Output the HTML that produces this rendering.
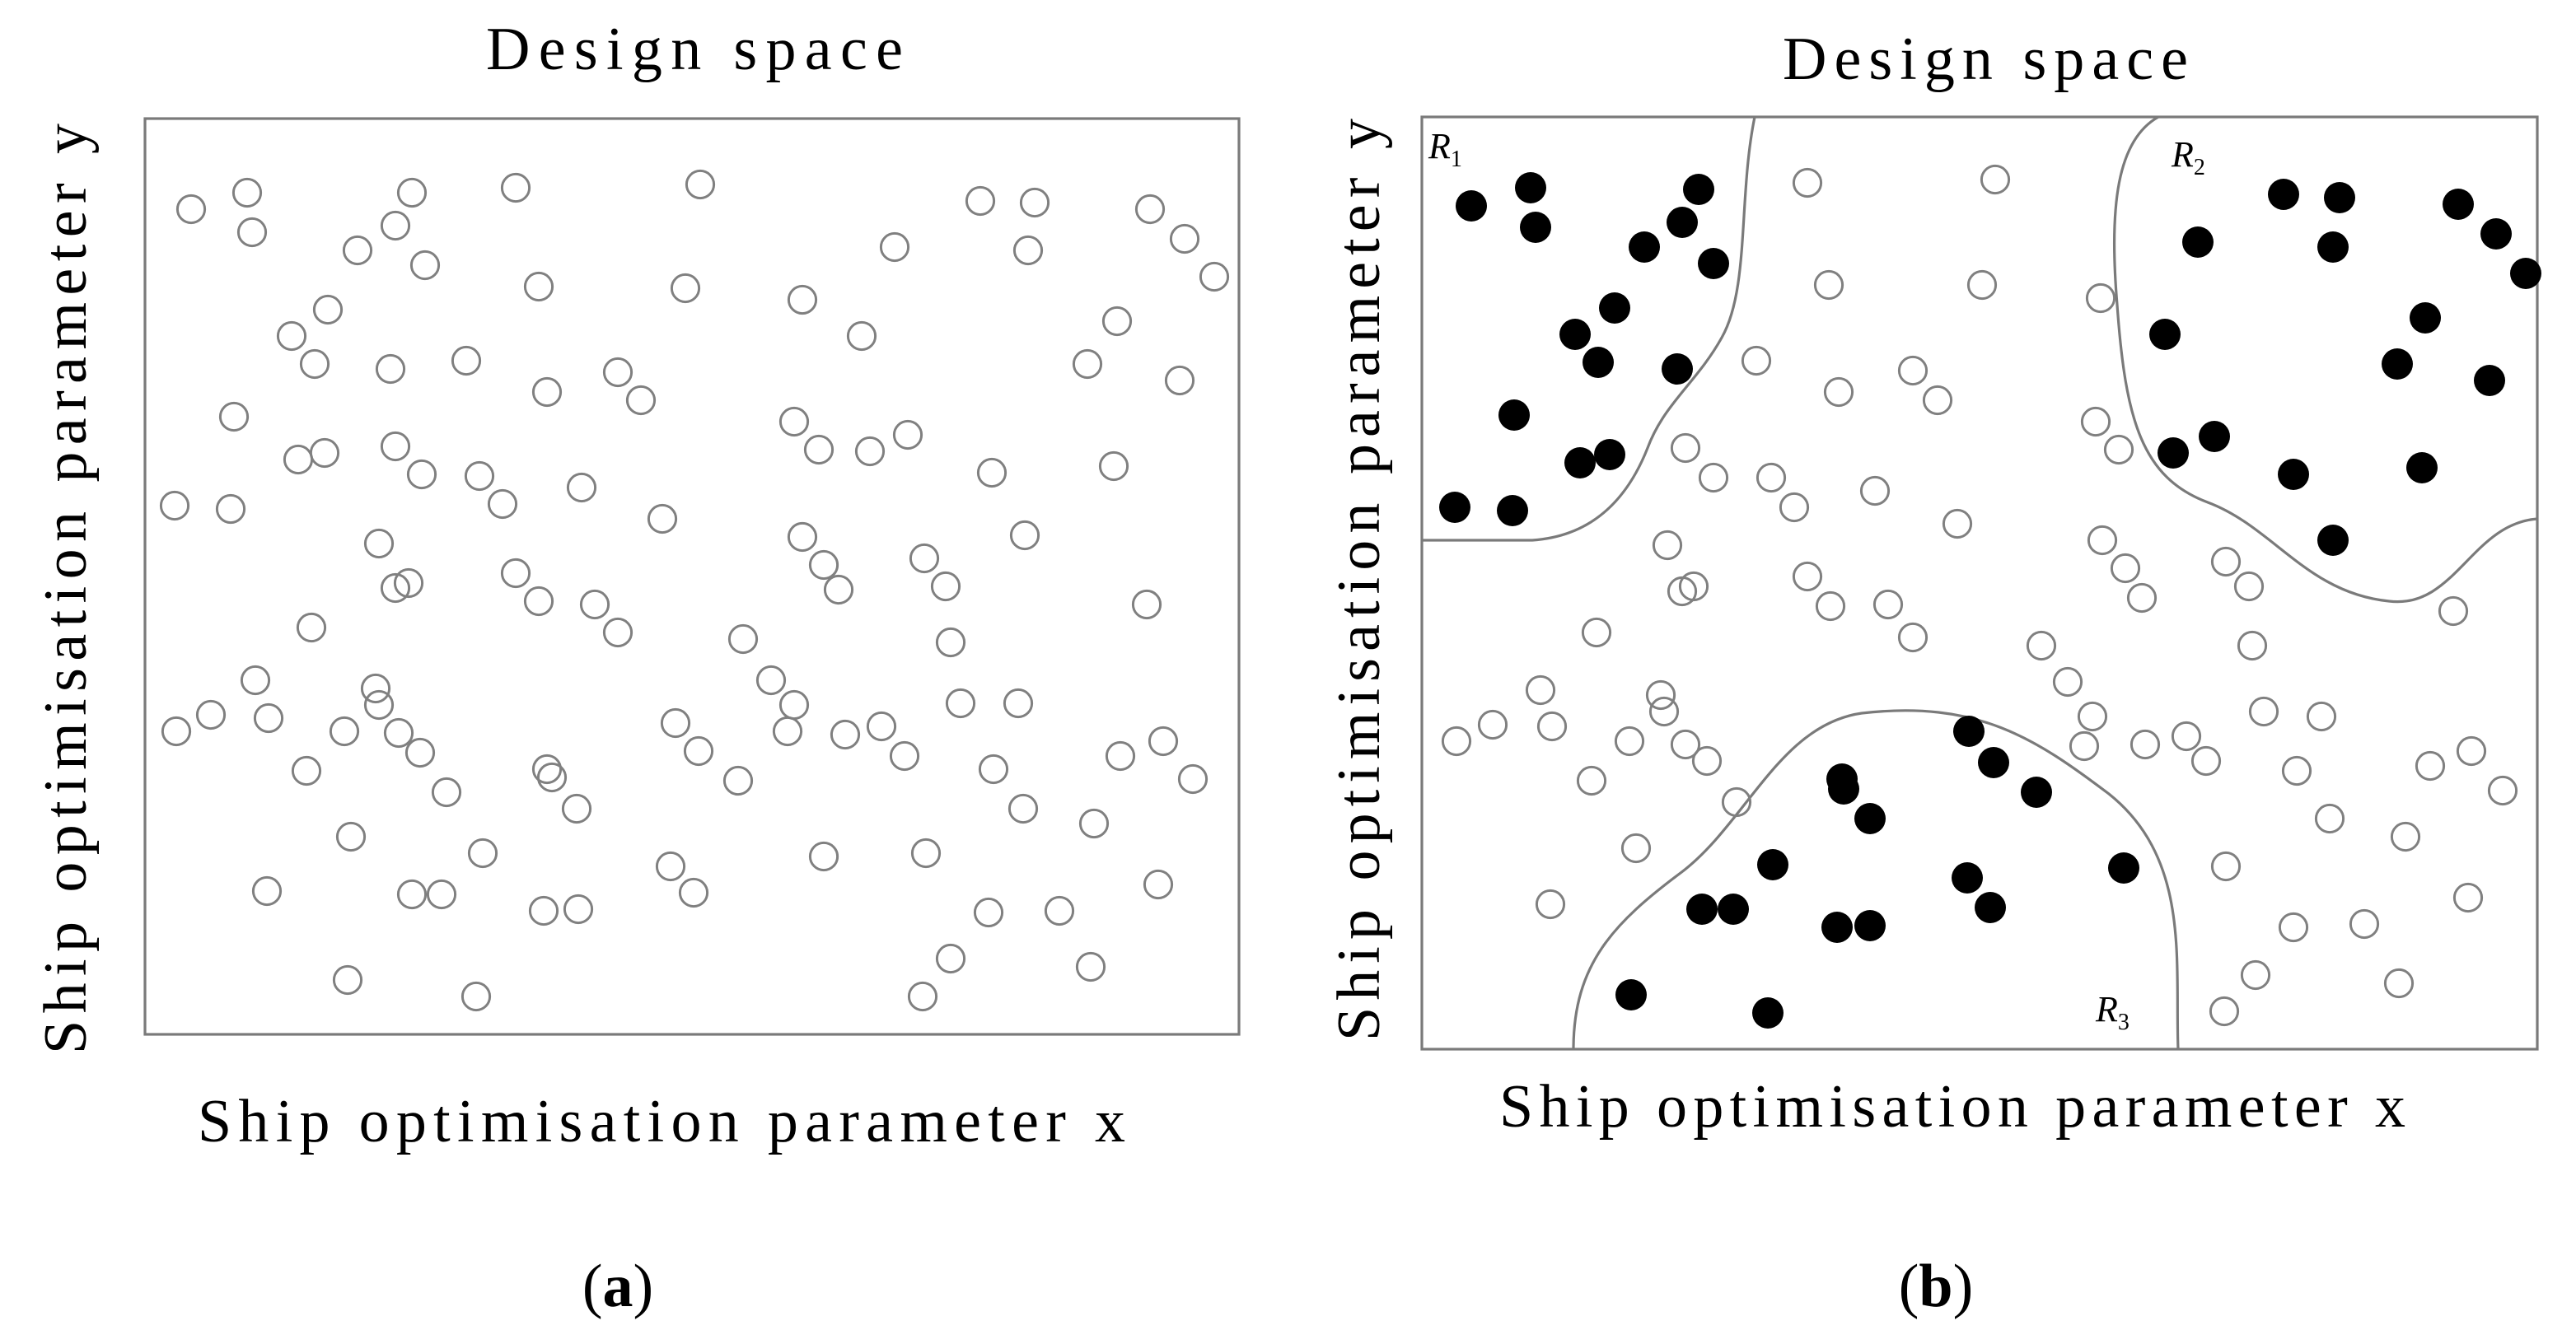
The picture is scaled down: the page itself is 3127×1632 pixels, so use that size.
<!DOCTYPE html>
<html><head><meta charset="utf-8"><style>html,body{margin:0;padding:0;background:#fff}svg{display:block}</style></head>
<body>
<svg width="3127" height="1632" viewBox="0 0 1563.5 816" xmlns="http://www.w3.org/2000/svg" font-family="Liberation Serif, serif">
<rect width="1563.5" height="816" fill="#fff"/>
<g fill="none" stroke="#7a7a7a" stroke-width="1.6">
<rect x="88" y="72" width="664" height="556"/>
<rect x="863" y="71" width="677" height="566"/>
<path d="M1065,71 C1055,120 1062,175 1045,205 C1030,232 1010,245 1000,272 C985,310 960,326 930,328 L863,328"/>
<path d="M1310,71 C1285,85 1280,125 1285,185 C1290,255 1300,290 1340,305 C1380,320 1400,360 1450,365 C1490,370 1500,318 1540,315"/>
<path d="M955,637 C955,585 980,560 1020,530 C1060,500 1080,440 1130,433 C1200,425 1235,448 1280,482 C1330,522 1320,585 1322,637"/>
</g>
<g fill="none" stroke="#808080" stroke-width="1.5">
<circle cx="116" cy="127" r="8.3"/><circle cx="150" cy="117" r="8.3"/><circle cx="153" cy="141" r="8.3"/><circle cx="250" cy="117" r="8.3"/><circle cx="240" cy="137" r="8.3"/><circle cx="217" cy="152" r="8.3"/><circle cx="258" cy="161" r="8.3"/><circle cx="313" cy="114" r="8.3"/><circle cx="425" cy="112" r="8.3"/><circle cx="327" cy="174" r="8.3"/><circle cx="416" cy="175" r="8.3"/><circle cx="595" cy="122" r="8.3"/><circle cx="628" cy="123" r="8.3"/><circle cx="624" cy="152" r="8.3"/><circle cx="698" cy="127" r="8.3"/><circle cx="719" cy="145" r="8.3"/><circle cx="737" cy="168" r="8.3"/><circle cx="543" cy="150" r="8.3"/><circle cx="487" cy="182" r="8.3"/><circle cx="523" cy="204" r="8.3"/><circle cx="199" cy="188" r="8.3"/><circle cx="177" cy="204" r="8.3"/><circle cx="191" cy="221" r="8.3"/><circle cx="237" cy="224" r="8.3"/><circle cx="283" cy="219" r="8.3"/><circle cx="332" cy="238" r="8.3"/><circle cx="375" cy="226" r="8.3"/><circle cx="389" cy="243" r="8.3"/><circle cx="660" cy="221" r="8.3"/><circle cx="678" cy="195" r="8.3"/><circle cx="716" cy="231" r="8.3"/><circle cx="142" cy="253" r="8.3"/><circle cx="181" cy="279" r="8.3"/><circle cx="197" cy="275" r="8.3"/><circle cx="240" cy="271" r="8.3"/><circle cx="256" cy="288" r="8.3"/><circle cx="291" cy="289" r="8.3"/><circle cx="305" cy="306" r="8.3"/><circle cx="353" cy="296" r="8.3"/><circle cx="482" cy="256" r="8.3"/><circle cx="497" cy="273" r="8.3"/><circle cx="528" cy="274" r="8.3"/><circle cx="551" cy="264" r="8.3"/><circle cx="602" cy="287" r="8.3"/><circle cx="676" cy="283" r="8.3"/><circle cx="106" cy="307" r="8.3"/><circle cx="140" cy="309" r="8.3"/><circle cx="402" cy="315" r="8.3"/><circle cx="487" cy="326" r="8.3"/><circle cx="500" cy="343" r="8.3"/><circle cx="622" cy="325" r="8.3"/><circle cx="230" cy="330" r="8.3"/><circle cx="240" cy="357" r="8.3"/><circle cx="248" cy="354" r="8.3"/><circle cx="313" cy="348" r="8.3"/><circle cx="327" cy="365" r="8.3"/><circle cx="361" cy="367" r="8.3"/><circle cx="375" cy="384" r="8.3"/><circle cx="509" cy="358" r="8.3"/><circle cx="561" cy="339" r="8.3"/><circle cx="574" cy="356" r="8.3"/><circle cx="696" cy="367" r="8.3"/><circle cx="189" cy="381" r="8.3"/><circle cx="451" cy="388" r="8.3"/><circle cx="577" cy="390" r="8.3"/><circle cx="468" cy="413" r="8.3"/><circle cx="482" cy="428" r="8.3"/><circle cx="155" cy="413" r="8.3"/><circle cx="228" cy="418" r="8.3"/><circle cx="230" cy="428" r="8.3"/><circle cx="107" cy="444" r="8.3"/><circle cx="128" cy="434" r="8.3"/><circle cx="163" cy="436" r="8.3"/><circle cx="209" cy="444" r="8.3"/><circle cx="242" cy="445" r="8.3"/><circle cx="255" cy="457" r="8.3"/><circle cx="410" cy="439" r="8.3"/><circle cx="424" cy="456" r="8.3"/><circle cx="478" cy="444" r="8.3"/><circle cx="513" cy="446" r="8.3"/><circle cx="535" cy="441" r="8.3"/><circle cx="549" cy="459" r="8.3"/><circle cx="583" cy="427" r="8.3"/><circle cx="618" cy="427" r="8.3"/><circle cx="186" cy="468" r="8.3"/><circle cx="271" cy="481" r="8.3"/><circle cx="332" cy="467" r="8.3"/><circle cx="335" cy="472" r="8.3"/><circle cx="350" cy="491" r="8.3"/><circle cx="448" cy="474" r="8.3"/><circle cx="603" cy="467" r="8.3"/><circle cx="680" cy="459" r="8.3"/><circle cx="706" cy="450" r="8.3"/><circle cx="724" cy="473" r="8.3"/><circle cx="213" cy="508" r="8.3"/><circle cx="293" cy="518" r="8.3"/><circle cx="407" cy="526" r="8.3"/><circle cx="500" cy="520" r="8.3"/><circle cx="562" cy="518" r="8.3"/><circle cx="621" cy="491" r="8.3"/><circle cx="664" cy="500" r="8.3"/><circle cx="162" cy="541" r="8.3"/><circle cx="250" cy="543" r="8.3"/><circle cx="268" cy="543" r="8.3"/><circle cx="330" cy="553" r="8.3"/><circle cx="351" cy="552" r="8.3"/><circle cx="421" cy="542" r="8.3"/><circle cx="703" cy="537" r="8.3"/><circle cx="600" cy="554" r="8.3"/><circle cx="643" cy="553" r="8.3"/><circle cx="211" cy="595" r="8.3"/><circle cx="289" cy="605" r="8.3"/><circle cx="560" cy="605" r="8.3"/><circle cx="577" cy="582" r="8.3"/><circle cx="662" cy="587" r="8.3"/>
<circle cx="1097" cy="111" r="8.3"/><circle cx="1211" cy="109" r="8.3"/><circle cx="1110" cy="173" r="8.3"/><circle cx="1203" cy="173" r="8.3"/><circle cx="1275" cy="181" r="8.3"/><circle cx="1066" cy="219" r="8.3"/><circle cx="1116" cy="238" r="8.3"/><circle cx="1161" cy="225" r="8.3"/><circle cx="1176" cy="243" r="8.3"/><circle cx="1272" cy="256" r="8.3"/><circle cx="1286" cy="273" r="8.3"/><circle cx="1023" cy="272" r="8.3"/><circle cx="1040" cy="290" r="8.3"/><circle cx="1075" cy="290" r="8.3"/><circle cx="1089" cy="308" r="8.3"/><circle cx="1138" cy="298" r="8.3"/><circle cx="1188" cy="318" r="8.3"/><circle cx="1012" cy="331" r="8.3"/><circle cx="1021" cy="359" r="8.3"/><circle cx="1028" cy="356" r="8.3"/><circle cx="1097" cy="350" r="8.3"/><circle cx="1111" cy="368" r="8.3"/><circle cx="1146" cy="367" r="8.3"/><circle cx="1161" cy="387" r="8.3"/><circle cx="1276" cy="328" r="8.3"/><circle cx="1290" cy="345" r="8.3"/><circle cx="1300" cy="363" r="8.3"/><circle cx="1351" cy="341" r="8.3"/><circle cx="1365" cy="356" r="8.3"/><circle cx="1239" cy="392" r="8.3"/><circle cx="1255" cy="414" r="8.3"/><circle cx="1270" cy="435" r="8.3"/><circle cx="1367" cy="392" r="8.3"/><circle cx="969" cy="384" r="8.3"/><circle cx="935" cy="419" r="8.3"/><circle cx="884" cy="450" r="8.3"/><circle cx="906" cy="440" r="8.3"/><circle cx="942" cy="441" r="8.3"/><circle cx="989" cy="450" r="8.3"/><circle cx="1008" cy="422" r="8.3"/><circle cx="1010" cy="432" r="8.3"/><circle cx="1023" cy="452" r="8.3"/><circle cx="1036" cy="462" r="8.3"/><circle cx="1054" cy="487" r="8.3"/><circle cx="966" cy="474" r="8.3"/><circle cx="993" cy="515" r="8.3"/><circle cx="941" cy="549" r="8.3"/><circle cx="1265" cy="453" r="8.3"/><circle cx="1302" cy="452" r="8.3"/><circle cx="1327" cy="447" r="8.3"/><circle cx="1339" cy="462" r="8.3"/><circle cx="1374" cy="432" r="8.3"/><circle cx="1409" cy="435" r="8.3"/><circle cx="1394" cy="468" r="8.3"/><circle cx="1414" cy="497" r="8.3"/><circle cx="1475" cy="465" r="8.3"/><circle cx="1500" cy="456" r="8.3"/><circle cx="1519" cy="480" r="8.3"/><circle cx="1460" cy="508" r="8.3"/><circle cx="1351" cy="526" r="8.3"/><circle cx="1498" cy="545" r="8.3"/><circle cx="1392" cy="563" r="8.3"/><circle cx="1435" cy="561" r="8.3"/><circle cx="1369" cy="592" r="8.3"/><circle cx="1350" cy="614" r="8.3"/><circle cx="1456" cy="597" r="8.3"/><circle cx="1489" cy="371" r="8.3"/>
</g>
<g fill="#000">
<circle cx="893" cy="125" r="9.5"/><circle cx="929" cy="114" r="9.5"/><circle cx="932" cy="138" r="9.5"/><circle cx="1031" cy="115" r="9.5"/><circle cx="1021" cy="135" r="9.5"/><circle cx="998" cy="150" r="9.5"/><circle cx="1040" cy="160" r="9.5"/><circle cx="980" cy="187" r="9.5"/><circle cx="956" cy="203" r="9.5"/><circle cx="970" cy="220" r="9.5"/><circle cx="1018" cy="224" r="9.5"/><circle cx="919" cy="252" r="9.5"/><circle cx="959" cy="281" r="9.5"/><circle cx="977" cy="276" r="9.5"/><circle cx="883" cy="308" r="9.5"/><circle cx="918" cy="310" r="9.5"/>
<circle cx="1334" cy="147" r="9.5"/><circle cx="1386" cy="118" r="9.5"/><circle cx="1420" cy="120" r="9.5"/><circle cx="1416" cy="150" r="9.5"/><circle cx="1492" cy="124" r="9.5"/><circle cx="1515" cy="142" r="9.5"/><circle cx="1533" cy="166" r="9.5"/><circle cx="1314" cy="203" r="9.5"/><circle cx="1472" cy="193" r="9.5"/><circle cx="1455" cy="221" r="9.5"/><circle cx="1511" cy="231" r="9.5"/><circle cx="1344" cy="265" r="9.5"/><circle cx="1319" cy="275" r="9.5"/><circle cx="1392" cy="288" r="9.5"/><circle cx="1470" cy="284" r="9.5"/><circle cx="1416" cy="328" r="9.5"/>
<circle cx="1195" cy="444" r="9.5"/><circle cx="1210" cy="463" r="9.5"/><circle cx="1236" cy="481" r="9.5"/><circle cx="1118" cy="473" r="9.5"/><circle cx="1119" cy="479" r="9.5"/><circle cx="1135" cy="497" r="9.5"/><circle cx="1076" cy="525" r="9.5"/><circle cx="1033" cy="552" r="9.5"/><circle cx="1052" cy="552" r="9.5"/><circle cx="1194" cy="533" r="9.5"/><circle cx="1208" cy="551" r="9.5"/><circle cx="1289" cy="527" r="9.5"/><circle cx="1115" cy="563" r="9.5"/><circle cx="1135" cy="562" r="9.5"/><circle cx="990" cy="604" r="9.5"/><circle cx="1073" cy="615" r="9.5"/>
</g>
<g fill="#000" font-size="37">
<text x="295" y="42" textLength="253" lengthAdjust="spacing">Design space</text>
<text x="1082" y="48" textLength="246" lengthAdjust="spacing">Design space</text>
<text x="120" y="693" textLength="563" lengthAdjust="spacing">Ship optimisation parameter x</text>
<text x="910" y="684" textLength="550" lengthAdjust="spacing">Ship optimisation parameter x</text>
<text transform="translate(52,640) rotate(-90)" textLength="565" lengthAdjust="spacing">Ship optimisation parameter y</text>
<text transform="translate(837,632) rotate(-90)" textLength="560" lengthAdjust="spacing">Ship optimisation parameter y</text>
<text x="375" y="793" text-anchor="middle">(<tspan font-weight="bold">a</tspan>)</text>
<text x="1175" y="793" text-anchor="middle">(<tspan font-weight="bold">b</tspan>)</text>
</g>
<g fill="#000" font-size="22" font-style="italic">
<text x="867" y="96">R<tspan font-size="14" font-style="normal" dy="5">1</tspan></text>
<text x="1318" y="101">R<tspan font-size="14" font-style="normal" dy="5">2</tspan></text>
<text x="1272" y="620">R<tspan font-size="14" font-style="normal" dy="5">3</tspan></text>
</g>
</svg>
</body></html>
